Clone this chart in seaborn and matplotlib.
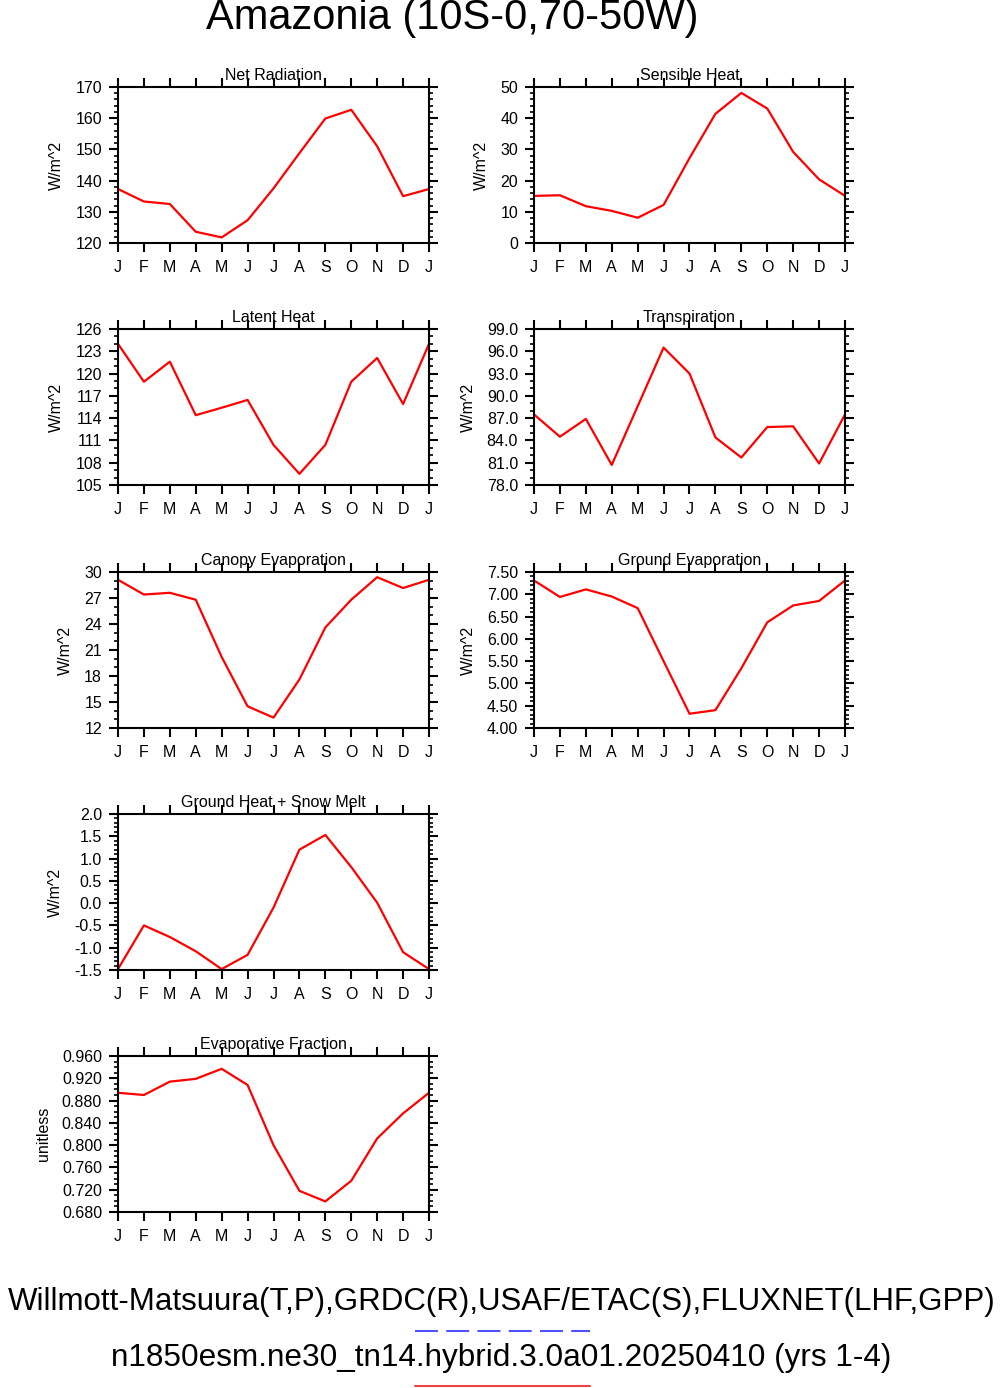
import numpy as np
import pandas as pd
import matplotlib
matplotlib.use('Agg')
import matplotlib.pyplot as plt
from matplotlib.lines import Line2D
from matplotlib.ticker import MultipleLocator, AutoMinorLocator, FormatStrFormatter
import seaborn as sns

# month axis (13 points, January repeated at the end)
months = ['J', 'F', 'M', 'A', 'M', 'J', 'J', 'A', 'S', 'O', 'N', 'D', 'J']

# values
net_radiation = [137.3, 133.3, 132.5, 123.6, 121.8, 127.3, 137.5, 148.8, 159.9, 162.7, 151.0, 135.0, 137.3]
sensible_heat = [15.1, 15.3, 11.8, 10.3, 8.1, 12.2, 27.2, 41.4, 48.1, 43.1, 29.2, 20.4, 15.1]
latent_heat = [124.0, 118.9, 121.6, 114.4, 115.4, 116.45, 110.4, 106.5, 110.4, 118.9, 122.1, 115.9, 124.0]
transpiration = [87.5, 84.5, 86.9, 80.7, 88.6, 96.5, 93.0, 84.4, 81.7, 85.8, 85.9, 80.9, 87.5]
canopy_evap = [29.1, 27.4, 27.6, 26.8, 20.2, 14.5, 13.2, 17.6, 23.6, 26.8, 29.4, 28.15, 29.1]
ground_evap = [7.31, 6.94, 7.11, 6.95, 6.69, 5.50, 4.32, 4.40, 5.34, 6.37, 6.75, 6.85, 7.31]
ground_heat = [-1.48, -0.50, -0.76, -1.08, -1.48, -1.16, -0.10, 1.20, 1.53, 0.81, 0.01, -1.10, -1.48]
evap_fraction = [0.894, 0.890, 0.914, 0.919, 0.937, 0.908, 0.800, 0.718, 0.699, 0.736, 0.812, 0.857, 0.894]

# (title, values, ylabel, ymin, ymax, step, fmt, minor subdivisions)
panels = [
    ('Net Radiation', net_radiation, 'W/m^2', 120, 170, 10, '%d', 5),
    ('Sensible Heat', sensible_heat, 'W/m^2', 0, 50, 10, '%d', 5),
    ('Latent Heat', latent_heat, 'W/m^2', 105, 126, 3, '%d', 3),
    ('Transpiration', transpiration, 'W/m^2', 78, 99, 3, '%.1f', 3),
    ('Canopy Evaporation', canopy_evap, 'W/m^2', 12, 30, 3, '%d', 3),
    ('Ground Evaporation', ground_evap, 'W/m^2', 4.0, 7.5, 0.5, '%.2f', 5),
    ('Ground Heat + Snow Melt', ground_heat, 'W/m^2', -1.5, 2.0, 0.5, '%.1f', 5),
    ('Evaporative Fraction', evap_fraction, 'unitless', 0.68, 0.96, 0.04, '%.3f', 4),
]
# (row, col) of each panel on the page
grid_pos = [(0, 0), (0, 1), (1, 0), (1, 1), (2, 0), (2, 1), (3, 0), (4, 0)]

sns.set_style('ticks')
plt.rcParams['font.family'] = ['Liberation Sans', 'DejaVu Sans']
plt.rcParams['text.color'] = 'black'
plt.rcParams['axes.labelcolor'] = 'black'
plt.rcParams['xtick.color'] = 'black'
plt.rcParams['ytick.color'] = 'black'

W, H = 1004, 1388
fig = plt.figure(figsize=(W / 100, H / 100), dpi=100)

col_x = [118, 534]
col_w = 311
row_top = [87, 329, 572, 814, 1056]
row_h = 156

fs = 11.5
for (title, vals, ylab, ymin, ymax, step, fmt, nminor), (r, c) in zip(panels, grid_pos):
    ax = fig.add_axes([col_x[c] / W, 1 - (row_top[r] + row_h) / H, col_w / W, row_h / H])
    df = pd.DataFrame({'month': np.arange(len(months)), 'value': vals})
    sns.lineplot(data=df, x='month', y='value', color='red', linewidth=1.6, ax=ax)

    ax.set_xlim(0, 12)
    ax.set_ylim(ymin, ymax)
    ax.set_xticks(np.arange(len(months)))
    ax.set_xticklabels(months)
    ax.yaxis.set_major_locator(MultipleLocator(step))
    ax.yaxis.set_minor_locator(AutoMinorLocator(nminor))
    ax.yaxis.set_major_formatter(FormatStrFormatter(fmt))

    for sp in ax.spines.values():
        sp.set_visible(True)
        sp.set_linewidth(1.5)
        sp.set_color('black')
    ax.tick_params(which='major', direction='out', length=6.5, width=1.5,
                   top=True, right=True, labelsize=fs, colors='black')
    ax.tick_params(axis='x', pad=6)
    ax.tick_params(axis='y', pad=5)
    ax.tick_params(axis='y', which='minor', direction='out', length=3, width=1.2,
                   left=True, right=True)
    ax.tick_params(axis='x', which='minor', bottom=False, top=False)

    ax.set_xlabel('')
    ax.set_ylabel(ylab, fontsize=fs, labelpad=8)
    ax.text(0.5, 1 + 7 / row_h, title, transform=ax.transAxes, ha='center',
            va='baseline', fontsize=fs)

fig.text(452 / W, 1 - 18 / H, 'Amazonia (10S-0,70-50W)', ha='center', va='center', fontsize=30)
fig.text(0.5, 1 - 1302 / H, 'Willmott-Matsuura(T,P),GRDC(R),USAF/ETAC(S),FLUXNET(LHF,GPP)',
         ha='center', va='center', fontsize=22.5)
fig.text(501 / W, 1 - 1358 / H, 'n1850esm.ne30_tn14.hybrid.3.0a01.20250410 (yrs 1-4)',
         ha='center', va='center', fontsize=22.7)

# line keys under the caption
fig.add_artist(Line2D([415 / W, 590 / W], [1 - 1331 / H, 1 - 1331 / H], color='#5050ff',
                      linewidth=1.5, linestyle=(0, (11, 4)), transform=fig.transFigure))
fig.add_artist(Line2D([415 / W, 590 / W], [1 - 1386 / H, 1 - 1386 / H], color='#ee4444',
                      linewidth=1.5, transform=fig.transFigure))

fig.savefig('out.png', dpi=100)
